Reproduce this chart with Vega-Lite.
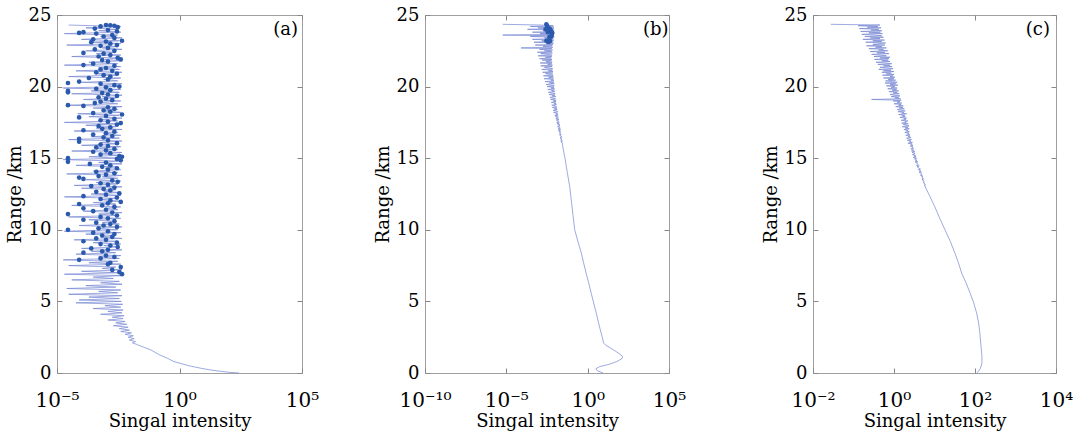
{
"$schema":"https://vega.github.io/schema/vega-lite/v6.json",
"background":"white",
"padding":5,
"datasets":{
"aLine":[{"r":0,"v":270},{"r":0.05,"v":100},{"r":0.1,"v":60},{"r":0.2,"v":20},{"r":0.33,"v":7.6},{"r":0.5,"v":2.5},{"r":0.79,"v":0.6},{"r":1.02,"v":0.33},{"r":1.3,"v":0.14},{"r":1.6,"v":0.07},{"r":1.8,"v":0.035},{"r":1.96,"v":0.02},
{"r":2.0,"v":0.018},{"r":2.1,"v":0.012},{"r":2.2,"v":0.016},{"r":2.3,"v":0.009},{"r":2.4,"v":0.014},{"r":2.5,"v":0.008},{"r":2.6,"v":0.013},{"r":2.7,"v":0.006},{"r":2.8,"v":0.011},{"r":2.9,"v":0.004},{"r":3.0,"v":0.009},{"r":3.1,"v":0.0035},{"r":3.2,"v":0.008},{"r":3.3,"v":0.002},{"r":3.4,"v":0.007},{"r":3.5,"v":0.0025},{"r":3.6,"v":0.006},{"r":3.7,"v":0.0012},{"r":3.8,"v":0.005},{"r":3.9,"v":0.0018},{"r":4.0,"v":0.0055},{"r":4.1,"v":0.0006},{"r":4.2,"v":0.0045},{"r":4.3,"v":0.0012},{"r":4.4,"v":0.005},{"r":4.5,"v":0.0003},{"r":4.6,"v":0.004},{"r":4.7,"v":0.0009},{"r":4.8,"v":0.0048},{"r":4.9,"v":0.00006},{"r":5.0,"v":0.0042},
{"r":5.1,"v":8e-5},{"r":5.2,"v":3.5e-3},{"r":5.3,"v":2e-4},{"r":5.4,"v":4.5e-3},{"r":5.5,"v":3e-5},{"r":5.6,"v":3e-3},{"r":5.7,"v":5e-4},{"r":5.8,"v":4e-3},{"r":5.9,"v":2.5e-5},{"r":6.0,"v":2.5e-3},
{"r":6.1,"v":1.5e-4},{"r":6.2,"v":4.5e-3},{"r":6.3,"v":6e-4},{"r":6.4,"v":3.5e-3},{"r":6.5,"v":4e-5},{"r":6.6,"v":2e-3},{"r":6.7,"v":3e-4},{"r":6.8,"v":4e-3},{"r":6.9,"v":2e-5},{"r":7.0,"v":3e-3},
{"r":7.1,"v":1e-4},{"r":7.2,"v":4.5e-3},{"r":7.3,"v":7e-4},{"r":7.4,"v":2.5e-3},{"r":7.5,"v":3e-5},{"r":7.6,"v":4e-3},{"r":7.7,"v":2e-4},{"r":7.8,"v":3e-3},{"r":7.9,"v":1.8e-5},{"r":8.0,"v":3.5e-3},
{"r":8.1,"v":5e-4},{"r":8.2,"v":4e-3},{"r":8.3,"v":6e-5},{"r":8.4,"v":2.5e-3},{"r":8.5,"v":2.5e-4},{"r":8.6,"v":4.5e-3},{"r":8.7,"v":1e-4},{"r":8.8,"v":3e-3},{"r":8.9,"v":8e-4},{"r":9.0,"v":4e-3},
{"r":9.1,"v":3e-4},{"r":9.2,"v":3e-3},{"r":9.3,"v":5e-5},{"r":9.4,"v":4.5e-3},{"r":9.5,"v":6e-4},{"r":9.6,"v":2.5e-3},{"r":9.7,"v":1.5e-4},{"r":9.8,"v":4e-3},{"r":9.9,"v":2e-5},{"r":10.0,"v":3e-3},
{"r":10.1,"v":4e-4},{"r":10.2,"v":4.5e-3},{"r":10.3,"v":8e-5},{"r":10.4,"v":3.5e-3},{"r":10.5,"v":7e-4},{"r":10.6,"v":2.5e-3},{"r":10.7,"v":2e-4},{"r":10.8,"v":4e-3},{"r":10.9,"v":3e-5},{"r":11.0,"v":3e-3},
{"r":11.1,"v":5e-4},{"r":11.2,"v":4.5e-3},{"r":11.3,"v":1.2e-4},{"r":11.4,"v":3e-3},{"r":11.5,"v":9e-4},{"r":11.6,"v":4e-3},{"r":11.7,"v":4e-5},{"r":11.8,"v":2.5e-3},{"r":11.9,"v":3e-4},{"r":12.0,"v":4.5e-3},
{"r":12.1,"v":6e-4},{"r":12.2,"v":3e-3},{"r":12.3,"v":2e-5},{"r":12.4,"v":4e-3},{"r":12.5,"v":2.5e-4},{"r":12.6,"v":3.5e-3},{"r":12.7,"v":8e-4},{"r":12.8,"v":2.5e-3},{"r":12.9,"v":1e-4},{"r":13.0,"v":4.5e-3},
{"r":13.1,"v":5e-5},{"r":13.2,"v":3e-3},{"r":13.3,"v":4e-4},{"r":13.4,"v":4e-3},{"r":13.5,"v":1.5e-4},{"r":13.6,"v":3e-3},{"r":13.7,"v":7e-4},{"r":13.8,"v":4.5e-3},{"r":13.9,"v":2.5e-5},{"r":14.0,"v":3e-3},
{"r":14.1,"v":3e-4},{"r":14.2,"v":4e-3},{"r":14.3,"v":9e-4},{"r":14.4,"v":2.5e-3},{"r":14.5,"v":6e-5},{"r":14.6,"v":4.5e-3},{"r":14.7,"v":5e-4},{"r":14.8,"v":3.5e-3},{"r":14.9,"v":1.8e-5},{"r":15.0,"v":4e-3},
{"r":15.1,"v":2e-4},{"r":15.2,"v":3e-3},{"r":15.3,"v":7e-4},{"r":15.4,"v":4.5e-3},{"r":15.5,"v":4e-5},{"r":15.6,"v":3e-3},{"r":15.7,"v":3.5e-4},{"r":15.8,"v":4e-3},{"r":15.9,"v":1e-4},{"r":16.0,"v":2.5e-3},
{"r":16.1,"v":6e-4},{"r":16.2,"v":4.5e-3},{"r":16.3,"v":3e-5},{"r":16.4,"v":3.5e-3},{"r":16.5,"v":2.5e-4},{"r":16.6,"v":4e-3},{"r":16.7,"v":8e-4},{"r":16.8,"v":3e-3},{"r":16.9,"v":5e-5},{"r":17.0,"v":4.5e-3},
{"r":17.1,"v":4e-4},{"r":17.2,"v":2.5e-3},{"r":17.3,"v":1.5e-4},{"r":17.4,"v":4e-3},{"r":17.5,"v":2e-5},{"r":17.6,"v":3e-3},{"r":17.7,"v":6e-4},{"r":17.8,"v":4.5e-3},{"r":17.9,"v":2e-4},{"r":18.0,"v":3.5e-3},
{"r":18.1,"v":7e-5},{"r":18.2,"v":4e-3},{"r":18.3,"v":9e-4},{"r":18.4,"v":3e-3},{"r":18.5,"v":3e-4},{"r":18.6,"v":4.5e-3},{"r":18.7,"v":2.5e-5},{"r":18.8,"v":3e-3},{"r":18.9,"v":5e-4},{"r":19.0,"v":4e-3},
{"r":19.1,"v":1.2e-4},{"r":19.2,"v":2.5e-3},{"r":19.3,"v":7e-4},{"r":19.4,"v":4.5e-3},{"r":19.5,"v":4e-5},{"r":19.6,"v":3.5e-3},{"r":19.7,"v":2.5e-4},{"r":19.8,"v":4e-3},{"r":19.9,"v":1.8e-5},{"r":20.0,"v":3e-3},
{"r":20.1,"v":6e-4},{"r":20.2,"v":4.5e-3},{"r":20.3,"v":1e-4},{"r":20.4,"v":3e-3},{"r":20.5,"v":8e-4},{"r":20.6,"v":4e-3},{"r":20.7,"v":3e-5},{"r":20.8,"v":2.5e-3},{"r":20.9,"v":3.5e-4},{"r":21.0,"v":4.5e-3},
{"r":21.1,"v":6e-5},{"r":21.2,"v":3.5e-3},{"r":21.3,"v":5e-4},{"r":21.4,"v":4e-3},{"r":21.5,"v":2e-5},{"r":21.6,"v":3e-3},{"r":21.7,"v":2e-4},{"r":21.8,"v":4.5e-3},{"r":21.9,"v":9e-4},{"r":22.0,"v":3e-3},
{"r":22.1,"v":4e-5},{"r":22.2,"v":4e-3},{"r":22.3,"v":4e-4},{"r":22.4,"v":2.5e-3},{"r":22.5,"v":1.5e-4},{"r":22.6,"v":4.5e-3},{"r":22.7,"v":7e-4},{"r":22.8,"v":3e-3},{"r":22.9,"v":2.5e-5},{"r":23.0,"v":4e-3},
{"r":23.1,"v":3e-4},{"r":23.2,"v":3.5e-3},{"r":23.3,"v":1e-4},{"r":23.4,"v":4.5e-3},{"r":23.5,"v":6e-4},{"r":23.6,"v":3e-3},{"r":23.7,"v":2e-5},{"r":23.8,"v":4e-3},{"r":23.9,"v":5e-4},{"r":24.0,"v":3e-3},
{"r":24.1,"v":1.5e-4},{"r":24.2,"v":4e-3},{"r":24.3,"v":3e-5}],
"aDots":[{"r":24.3,"v":1e-3},{"r":24.28,"v":1.5e-3},{"r":24.25,"v":2.2e-3},{"r":24.2,"v":6e-4},{"r":24.15,"v":3e-3},{"r":24.05,"v":3.5e-4},{"r":23.95,"v":1.2e-3},{"r":23.85,"v":2.8e-3},{"r":23.8,"v":1.2e-4},{"r":23.75,"v":8e-5},{"r":23.7,"v":4e-4},{"r":23.6,"v":1.8e-3},{"r":23.5,"v":8e-4},{"r":23.4,"v":2.2e-3},{"r":23.3,"v":3e-4},{"r":23.2,"v":4.5e-3},{"r":23.15,"v":1e-3},{"r":23.1,"v":2.5e-4},{"r":23.0,"v":1.5e-3},{"r":22.9,"v":2.8e-3},{"r":22.85,"v":6e-4},{"r":22.7,"v":1.2e-3},{"r":22.6,"v":3.5e-4},{"r":22.5,"v":2.2e-3},{"r":22.35,"v":1.2e-4},{"r":22.3,"v":8e-4},{"r":22.2,"v":1.5e-3},{"r":22.1,"v":5e-4},{"r":22.0,"v":3e-3},{"r":21.9,"v":4e-3},{"r":21.85,"v":7e-4},{"r":21.75,"v":1.2e-3},{"r":21.6,"v":3e-4},{"r":21.5,"v":1.2e-4},{"r":21.45,"v":2.2e-3},{"r":21.3,"v":1e-3},{"r":21.2,"v":6e-4},{"r":21.1,"v":1.8e-3},{"r":21.0,"v":4e-4},{"r":20.9,"v":2.8e-3},{"r":20.8,"v":8e-4},{"r":20.7,"v":1.5e-3},{"r":20.6,"v":2e-4},{"r":20.5,"v":1.2e-3},{"r":20.35,"v":8e-5},{"r":20.25,"v":2.8e-5},{"r":20.2,"v":6e-4},{"r":20.1,"v":2.2e-3},{"r":20.0,"v":3.5e-3},{"r":19.95,"v":1e-3},{"r":19.85,"v":4e-4},{"r":19.75,"v":1.5e-3},{"r":19.7,"v":2.8e-5},{"r":19.6,"v":2.8e-5},{"r":19.55,"v":7e-4},{"r":19.45,"v":1.2e-3},{"r":19.35,"v":2.8e-3},{"r":19.25,"v":5e-4},{"r":19.15,"v":1e-3},{"r":19.05,"v":1.8e-3},{"r":18.95,"v":6e-4},{"r":18.85,"v":3.5e-4},{"r":18.7,"v":2.8e-5},{"r":18.65,"v":1.2e-4},{"r":18.55,"v":1.2e-3},{"r":18.45,"v":2.2e-3},{"r":18.35,"v":8e-4},{"r":18.25,"v":1.5e-3},{"r":18.15,"v":3e-4},{"r":18.05,"v":4.5e-3},{"r":17.95,"v":1e-3},{"r":17.85,"v":8e-5},{"r":17.75,"v":2.2e-3},{"r":17.65,"v":6e-4},{"r":17.55,"v":1.2e-3},{"r":17.45,"v":4e-3},{"r":17.35,"v":2.8e-3},{"r":17.25,"v":5e-4},{"r":17.15,"v":1.5e-3},{"r":17.05,"v":7e-4},{"r":16.95,"v":1.2e-4},{"r":16.85,"v":2.2e-3},{"r":16.75,"v":1e-3},{"r":16.65,"v":3e-4},{"r":16.55,"v":1.8e-3},{"r":16.45,"v":8e-4},{"r":16.35,"v":8e-5},{"r":16.25,"v":1.2e-3},{"r":16.15,"v":8e-5},{"r":16.05,"v":2.8e-3},{"r":15.95,"v":6e-4},{"r":15.85,"v":1.2e-3},{"r":15.75,"v":4e-4},{"r":15.65,"v":2.2e-3},{"r":15.55,"v":1e-3},{"r":15.45,"v":3e-4},{"r":15.35,"v":1.5e-3},{"r":15.25,"v":6e-4},{"r":15.15,"v":3.5e-3},{"r":15.1,"v":4.5e-3},{"r":15.0,"v":2.8e-5},{"r":14.95,"v":2.8e-3},{"r":14.85,"v":4e-3},{"r":14.75,"v":2.8e-5},{"r":14.7,"v":1e-3},{"r":14.6,"v":2.2e-4},{"r":14.5,"v":1.5e-3},{"r":14.4,"v":7e-4},{"r":14.3,"v":2.8e-3},{"r":14.2,"v":1.2e-3},{"r":14.05,"v":4e-4},{"r":13.95,"v":2.2e-3},{"r":13.85,"v":1e-3},{"r":13.75,"v":5e-4},{"r":13.65,"v":8e-5},{"r":13.55,"v":1.2e-4},{"r":13.45,"v":1.8e-3},{"r":13.35,"v":3e-3},{"r":13.25,"v":6e-4},{"r":13.15,"v":1.2e-3},{"r":13.05,"v":2.5e-4},{"r":12.95,"v":2.2e-3},{"r":12.85,"v":8e-4},{"r":12.75,"v":1.5e-3},{"r":12.65,"v":4e-4},{"r":12.55,"v":3.5e-3},{"r":12.45,"v":1e-3},{"r":12.35,"v":1.2e-4},{"r":12.25,"v":2.8e-3},{"r":12.15,"v":6e-4},{"r":12.05,"v":1.5e-3},{"r":11.95,"v":4e-3},{"r":11.85,"v":1.2e-3},{"r":11.8,"v":8e-5},{"r":11.7,"v":7e-4},{"r":11.6,"v":2.2e-3},{"r":11.5,"v":1.2e-4},{"r":11.4,"v":1e-3},{"r":11.3,"v":3e-4},{"r":11.2,"v":1.8e-3},{"r":11.1,"v":2.8e-5},{"r":11.0,"v":2.8e-3},{"r":10.9,"v":6e-4},{"r":10.8,"v":1.2e-3},{"r":10.7,"v":1.2e-4},{"r":10.6,"v":2.2e-3},{"r":10.5,"v":4e-4},{"r":10.4,"v":1.5e-3},{"r":10.3,"v":8e-4},{"r":10.2,"v":2.8e-3},{"r":10.1,"v":5e-4},{"r":10.0,"v":2.8e-5},{"r":9.9,"v":1.2e-3},{"r":9.8,"v":3e-4},{"r":9.7,"v":2.2e-3},{"r":9.6,"v":7e-4},{"r":9.5,"v":1.8e-3},{"r":9.4,"v":4e-4},{"r":9.3,"v":1e-3},{"r":9.2,"v":1.2e-4},{"r":9.1,"v":2.8e-3},{"r":9.0,"v":6e-4},{"r":8.9,"v":1.5e-3},{"r":8.8,"v":3e-3},{"r":8.7,"v":2.5e-4},{"r":8.6,"v":1.2e-3},{"r":8.5,"v":7e-4},{"r":8.4,"v":1.2e-4},{"r":8.2,"v":1e-3},{"r":8.1,"v":2.2e-3},{"r":8.0,"v":6e-4},{"r":7.9,"v":8e-5},{"r":7.7,"v":1.5e-3},{"r":7.6,"v":1.2e-3},{"r":7.4,"v":4e-3},{"r":7.2,"v":1.8e-3},{"r":7.05,"v":3.5e-3},{"r":6.9,"v":4.5e-3}],
"bLine":[{"r":0,"v":8.9},{"r":0.15,"v":4.0},{"r":0.3,"v":3.2},{"r":0.45,"v":5.6},{"r":0.6,"v":20},{"r":0.8,"v":63},{"r":1.0,"v":126},{"r":1.15,"v":141},{"r":1.3,"v":100},{"r":1.5,"v":56},{"r":1.75,"v":25},{"r":1.95,"v":12.6},{"r":2.1,"v":9.5},{"r":2.5,"v":7.9},{"r":3.0,"v":6.0},{"r":3.5,"v":4.7},{"r":4.17,"v":3.4},{"r":5.0,"v":2.2},{"r":5.57,"v":1.66},{"r":6.3,"v":1.15},{"r":6.96,"v":0.81},{"r":7.7,"v":0.56},{"r":8.36,"v":0.41},{"r":9.2,"v":0.25},{"r":10.0,"v":0.16},{"r":11.0,"v":0.126},{"r":12.0,"v":0.1},{"r":13.0,"v":0.079},{"r":14.0,"v":0.056},{"r":15.1,"v":0.039},{"r":16.0,"v":0.0275},
{"r":16.05,"v":0.029},{"r":16.1,"v":0.024},{"r":16.15,"v":0.028},{"r":16.2,"v":0.022},{"r":16.25,"v":0.027},{"r":16.3,"v":0.025},{"r":16.35,"v":0.021},{"r":16.4,"v":0.026},{"r":16.45,"v":0.02},{"r":16.5,"v":0.025},{"r":16.55,"v":0.023},{"r":16.6,"v":0.019},{"r":16.65,"v":0.024},{"r":16.7,"v":0.018},{"r":16.75,"v":0.022},{"r":16.8,"v":0.021},{"r":16.85,"v":0.017},{"r":16.9,"v":0.022},{"r":16.95,"v":0.016},{"r":17.0,"v":0.021},
{"r":17.05,"v":0.015},{"r":17.1,"v":0.021},{"r":17.15,"v":0.018},{"r":17.2,"v":0.014},{"r":17.25,"v":0.02},{"r":17.3,"v":0.016},{"r":17.35,"v":0.019},{"r":17.4,"v":0.013},{"r":17.45,"v":0.018},{"r":17.5,"v":0.0125},{"r":17.55,"v":0.0175},{"r":17.6,"v":0.015},{"r":17.65,"v":0.012},{"r":17.7,"v":0.017},{"r":17.75,"v":0.011},{"r":17.8,"v":0.016},{"r":17.85,"v":0.0135},{"r":17.9,"v":0.0105},{"r":17.95,"v":0.0155},{"r":18.0,"v":0.0095},
{"r":18.05,"v":0.015},{"r":18.1,"v":0.011},{"r":18.15,"v":0.014},{"r":18.2,"v":0.008},{"r":18.25,"v":0.0145},{"r":18.3,"v":0.012},{"r":18.35,"v":0.0075},{"r":18.4,"v":0.0135},{"r":18.45,"v":0.009},{"r":18.5,"v":0.013},{"r":18.55,"v":0.0068},{"r":18.6,"v":0.0125},{"r":18.65,"v":0.0105},{"r":18.7,"v":0.0062},{"r":18.75,"v":0.012},{"r":18.8,"v":0.0085},{"r":18.85,"v":0.0115},{"r":18.9,"v":0.0058},{"r":18.95,"v":0.0112},{"r":19.0,"v":0.0078},
{"r":19.05,"v":0.0115},{"r":19.1,"v":0.0052},{"r":19.15,"v":0.0105},{"r":19.2,"v":0.0072},{"r":19.25,"v":0.0048},{"r":19.3,"v":0.011},{"r":19.35,"v":0.0065},{"r":19.4,"v":0.0098},{"r":19.45,"v":0.0042},{"r":19.5,"v":0.0102},{"r":19.55,"v":0.007},{"r":19.6,"v":0.0038},{"r":19.65,"v":0.0095},{"r":19.7,"v":0.006},{"r":19.75,"v":0.009},{"r":19.8,"v":0.0035},{"r":19.85,"v":0.0092},{"r":19.9,"v":0.0055},{"r":19.95,"v":0.0085},{"r":20.0,"v":0.0032},
{"r":20.05,"v":0.009},{"r":20.1,"v":0.005},{"r":20.15,"v":0.0028},{"r":20.2,"v":0.0088},{"r":20.25,"v":0.0045},{"r":20.3,"v":0.0082},{"r":20.35,"v":0.0024},{"r":20.4,"v":0.0085},{"r":20.45,"v":0.0055},{"r":20.5,"v":0.0078},{"r":20.55,"v":0.0021},{"r":20.6,"v":0.008},{"r":20.65,"v":0.004},{"r":20.7,"v":0.0075},{"r":20.75,"v":0.0019},{"r":20.8,"v":0.0077},{"r":20.85,"v":0.005},{"r":20.9,"v":0.0026},{"r":20.95,"v":0.0072},{"r":21.0,"v":0.0017},
{"r":21.05,"v":0.0074},{"r":21.1,"v":0.0038},{"r":21.15,"v":0.0068},{"r":21.2,"v":0.0015},{"r":21.25,"v":0.0072},{"r":21.3,"v":0.0042},{"r":21.35,"v":0.0022},{"r":21.4,"v":0.0066},{"r":21.45,"v":0.0013},{"r":21.5,"v":0.0069},{"r":21.55,"v":0.0035},{"r":21.6,"v":0.0062},{"r":21.65,"v":0.0012},{"r":21.7,"v":0.0066},{"r":21.75,"v":0.0028},{"r":21.8,"v":0.006},{"r":21.85,"v":0.0016},{"r":21.9,"v":0.0064},{"r":21.95,"v":0.0011},{"r":22.0,"v":0.0058},
{"r":22.05,"v":0.0025},{"r":22.1,"v":0.0062},{"r":22.15,"v":0.0009},{"r":22.2,"v":0.0065},{"r":22.25,"v":0.0032},{"r":22.3,"v":0.0013},{"r":22.35,"v":0.0068},{"r":22.4,"v":0.0008},{"r":22.45,"v":0.006},{"r":22.5,"v":0.0022},{"r":22.55,"v":0.007},{"r":22.6,"v":0.0011},{"r":22.65,"v":0.0062},{"r":22.7,"v":8e-5},{"r":22.75,"v":0.0072},{"r":22.8,"v":0.0018},{"r":22.85,"v":0.0066},{"r":22.9,"v":0.0006},{"r":22.95,"v":0.0075},{"r":23.0,"v":0.0028},
{"r":23.05,"v":0.008},{"r":23.1,"v":0.0005},{"r":23.15,"v":0.0068},{"r":23.2,"v":0.0015},{"r":23.25,"v":0.0085},{"r":23.3,"v":0.0004},{"r":23.35,"v":0.0075},{"r":23.4,"v":0.0022},{"r":23.45,"v":0.0088},{"r":23.5,"v":0.0003},{"r":23.55,"v":0.0078},{"r":23.6,"v":6e-6},{"r":23.65,"v":0.0082},{"r":23.7,"v":0.0012},{"r":23.75,"v":0.009},{"r":23.8,"v":0.0004},{"r":23.85,"v":0.0076},{"r":23.9,"v":0.0018},{"r":23.95,"v":0.0088},{"r":24.0,"v":0.0002},
{"r":24.05,"v":0.008},{"r":24.1,"v":0.0009},{"r":24.15,"v":0.0085},{"r":24.2,"v":0.0003},{"r":24.25,"v":0.0078},{"r":24.3,"v":0.0012},{"r":24.35,"v":6e-6}],
"bDots":[{"r":24.35,"v":0.0029},{"r":24.2,"v":0.0033},{"r":24.05,"v":0.0046},{"r":24.0,"v":0.0026},{"r":23.9,"v":0.0055},{"r":23.8,"v":0.0036},{"r":23.75,"v":0.0066},{"r":23.6,"v":0.0062},{"r":23.5,"v":0.0057},{"r":23.45,"v":0.0045},{"r":23.2,"v":0.0029},{"r":23.18,"v":0.0049},{"r":23.12,"v":0.0038}],
"cLine":[{"r":0,"v":110},{"r":0.1,"v":120},{"r":0.3,"v":135},{"r":0.68,"v":148},{"r":1.2,"v":148},{"r":1.84,"v":141},{"r":2.77,"v":132},{"r":3.5,"v":123},{"r":4.17,"v":110},{"r":4.9,"v":93},{"r":5.57,"v":76},{"r":6.3,"v":60},{"r":6.96,"v":47},{"r":7.7,"v":39},{"r":8.36,"v":32},{"r":9.2,"v":24.5},{"r":9.99,"v":18.2},{"r":10.8,"v":13.5},{"r":11.6,"v":10.2},{"r":12.3,"v":7.8},{"r":13.0,"v":5.9},
{"r":13.05,"v":5.95},{"r":13.1,"v":5.5},{"r":13.15,"v":6.0},{"r":13.2,"v":5.6},{"r":13.25,"v":5.7},{"r":13.3,"v":5.2},{"r":13.35,"v":5.6},{"r":13.4,"v":5.3},{"r":13.45,"v":5.3},{"r":13.5,"v":4.9},{"r":13.55,"v":5.4},{"r":13.6,"v":4.9},{"r":13.65,"v":5.1},{"r":13.7,"v":4.8},{"r":13.75,"v":5.2},{"r":13.8,"v":4.5},{"r":13.85,"v":4.9},{"r":13.9,"v":4.6},{"r":13.95,"v":4.8},{"r":14.0,"v":4.2},
{"r":14.05,"v":4.7},{"r":14.1,"v":4.2},{"r":14.15,"v":4.5},{"r":14.2,"v":4.0},{"r":14.25,"v":4.5},{"r":14.3,"v":4.1},{"r":14.35,"v":4.0},{"r":14.4,"v":3.7},{"r":14.45,"v":4.2},{"r":14.5,"v":3.6},{"r":14.55,"v":4.0},{"r":14.6,"v":3.8},{"r":14.65,"v":3.7},{"r":14.7,"v":3.4},{"r":14.75,"v":3.9},{"r":14.8,"v":3.3},{"r":14.85,"v":3.7},{"r":14.9,"v":3.5},{"r":14.95,"v":3.2},{"r":15.0,"v":3.6},
{"r":15.05,"v":3.0},{"r":15.1,"v":3.5},{"r":15.15,"v":3.1},{"r":15.2,"v":3.4},{"r":15.25,"v":2.85},{"r":15.3,"v":3.3},{"r":15.35,"v":3.15},{"r":15.4,"v":2.8},{"r":15.45,"v":3.3},{"r":15.5,"v":2.7},{"r":15.55,"v":3.1},{"r":15.6,"v":2.95},{"r":15.65,"v":2.6},{"r":15.7,"v":3.05},{"r":15.75,"v":2.75},{"r":15.8,"v":2.9},{"r":15.85,"v":2.5},{"r":15.9,"v":2.95},{"r":15.95,"v":2.6},{"r":16.0,"v":2.8},
{"r":16.05,"v":2.2},{"r":16.1,"v":2.85},{"r":16.15,"v":2.4},{"r":16.2,"v":2.6},{"r":16.25,"v":2.15},{"r":16.3,"v":2.7},{"r":16.35,"v":2.3},{"r":16.4,"v":2.05},{"r":16.45,"v":2.6},{"r":16.5,"v":2.25},{"r":16.55,"v":2.5},{"r":16.6,"v":1.95},{"r":16.65,"v":2.45},{"r":16.7,"v":2.15},{"r":16.75,"v":2.35},{"r":16.8,"v":1.85},{"r":16.85,"v":2.4},{"r":16.9,"v":2.0},{"r":16.95,"v":2.2},{"r":17.0,"v":1.75},
{"r":17.05,"v":2.4},{"r":17.1,"v":1.9},{"r":17.15,"v":2.2},{"r":17.2,"v":1.6},{"r":17.25,"v":2.35},{"r":17.3,"v":2.0},{"r":17.35,"v":1.7},{"r":17.4,"v":2.25},{"r":17.45,"v":1.55},{"r":17.5,"v":2.0},{"r":17.55,"v":1.85},{"r":17.6,"v":2.2},{"r":17.65,"v":1.5},{"r":17.7,"v":1.95},{"r":17.75,"v":1.75},{"r":17.8,"v":2.05},{"r":17.85,"v":1.4},{"r":17.9,"v":1.9},{"r":17.95,"v":1.6},{"r":18.0,"v":1.85},
{"r":18.05,"v":1.3},{"r":18.1,"v":2.05},{"r":18.15,"v":1.55},{"r":18.2,"v":1.75},{"r":18.25,"v":1.25},{"r":18.3,"v":1.9},{"r":18.35,"v":1.45},{"r":18.4,"v":1.2},{"r":18.45,"v":1.8},{"r":18.5,"v":1.35},{"r":18.55,"v":1.65},{"r":18.6,"v":1.1},{"r":18.65,"v":1.7},{"r":18.7,"v":1.3},{"r":18.75,"v":1.5},{"r":18.8,"v":1.0},{"r":18.85,"v":1.55},{"r":18.9,"v":1.2},{"r":18.95,"v":1.4},{"r":19.0,"v":0.95},
{"r":19.05,"v":1.5},{"r":19.1,"v":0.28},{"r":19.15,"v":1.45},{"r":19.2,"v":1.05},{"r":19.25,"v":1.3},{"r":19.3,"v":0.85},{"r":19.35,"v":1.4},{"r":19.4,"v":1.0},{"r":19.45,"v":0.8},{"r":19.5,"v":1.35},{"r":19.55,"v":0.95},{"r":19.6,"v":1.2},{"r":19.65,"v":0.75},{"r":19.7,"v":1.3},{"r":19.75,"v":0.9},{"r":19.8,"v":1.15},{"r":19.85,"v":0.7},{"r":19.9,"v":1.2},{"r":19.95,"v":0.85},{"r":20.0,"v":1.05},
{"r":20.05,"v":0.65},{"r":20.1,"v":1.25},{"r":20.15,"v":0.8},{"r":20.2,"v":1.1},{"r":20.25,"v":0.6},{"r":20.3,"v":1.2},{"r":20.35,"v":0.9},{"r":20.4,"v":0.62},{"r":20.45,"v":1.1},{"r":20.5,"v":0.72},{"r":20.55,"v":1.0},{"r":20.6,"v":0.55},{"r":20.65,"v":1.05},{"r":20.7,"v":0.8},{"r":20.75,"v":0.95},{"r":20.8,"v":0.52},{"r":20.85,"v":1.0},{"r":20.9,"v":0.65},{"r":20.95,"v":0.85},{"r":21.0,"v":0.5},
{"r":21.05,"v":1.0},{"r":21.1,"v":0.55},{"r":21.15,"v":0.85},{"r":21.2,"v":0.42},{"r":21.25,"v":0.95},{"r":21.3,"v":0.7},{"r":21.35,"v":0.45},{"r":21.4,"v":0.9},{"r":21.45,"v":0.55},{"r":21.5,"v":0.8},{"r":21.55,"v":0.4},{"r":21.6,"v":0.88},{"r":21.65,"v":0.6},{"r":21.7,"v":0.36},{"r":21.75,"v":0.8},{"r":21.8,"v":0.5},{"r":21.85,"v":0.72},{"r":21.9,"v":0.33},{"r":21.95,"v":0.75},{"r":22.0,"v":0.45},
{"r":22.05,"v":0.8},{"r":22.1,"v":0.32},{"r":22.15,"v":0.65},{"r":22.2,"v":0.45},{"r":22.25,"v":0.28},{"r":22.3,"v":0.75},{"r":22.35,"v":0.38},{"r":22.4,"v":0.6},{"r":22.45,"v":0.26},{"r":22.5,"v":0.7},{"r":22.55,"v":0.42},{"r":22.6,"v":0.55},{"r":22.65,"v":0.24},{"r":22.7,"v":0.65},{"r":22.75,"v":0.35},{"r":22.8,"v":0.5},{"r":22.85,"v":0.21},{"r":22.9,"v":0.6},{"r":22.95,"v":0.3},{"r":23.0,"v":0.45},
{"r":23.05,"v":0.62},{"r":23.1,"v":0.2},{"r":23.15,"v":0.5},{"r":23.2,"v":0.3},{"r":23.25,"v":0.58},{"r":23.3,"v":0.17},{"r":23.35,"v":0.45},{"r":23.4,"v":0.26},{"r":23.45,"v":0.55},{"r":23.5,"v":0.19},{"r":23.55,"v":0.5},{"r":23.6,"v":0.33},{"r":23.65,"v":0.16},{"r":23.7,"v":0.52},{"r":23.75,"v":0.24},{"r":23.8,"v":0.46},{"r":23.85,"v":0.15},{"r":23.9,"v":0.5},{"r":23.95,"v":0.27},{"r":24.0,"v":0.42},
{"r":24.05,"v":0.14},{"r":24.1,"v":0.48},{"r":24.15,"v":0.22},{"r":24.2,"v":0.4},{"r":24.25,"v":0.13},{"r":24.3,"v":0.45},{"r":24.35,"v":0.0275}]
},
"config":{
"view":{"stroke":"#a0a0a0","strokeWidth":1},
"font":"DejaVu Serif",
"text":{"font":"DejaVu Serif"},
"axis":{"grid":false,"domain":false,"tickColor":"#888888","tickSize":-5,"tickWidth":1,"labelFont":"DejaVu Serif","labelColor":"#000000","titleFont":"DejaVu Serif","titleColor":"#000000","titleFontWeight":"normal","titleFontSize":18},
"axisX":{"labelFontSize":20,"labelFlush":false,"labelPadding":22,"titlePadding":2},
"axisY":{"labelFontSize":18,"labelPadding":11,"titlePadding":4,"minExtent":0}
},
"spacing":74,
"hconcat":[
{"spacing":53,"hconcat":[
{"width":245,"height":358,
"resolve":{"axis":{"x":"independent","y":"independent"}},
"layer":[
{"data":{"name":"aLine"},"mark":{"type":"line","color":"#7485d2","strokeWidth":0.7},
"encoding":{"x":{"field":"v","type":"quantitative","scale":{"type":"log","domain":[1e-5,1e5],"nice":false},"axis":{"orient":"bottom","values":[1e-5,1,1e5],"labelExpr":"datum.value < 0.01 ? '10⁻⁵' : datum.value < 10 ? '10⁰' : '10⁵'","title":"Singal intensity"}},
"y":{"field":"r","type":"quantitative","scale":{"domain":[0,25],"nice":false,"zero":false},"axis":{"orient":"left","values":[0,5,10,15,20,25],"title":"Range /km"}},
"order":{"field":"r","type":"quantitative"}}},
{"data":{"name":"aDots"},"mark":{"type":"circle","size":22,"color":"#2b5aad","opacity":1},
"encoding":{"x":{"field":"v","type":"quantitative","axis":{"orient":"top","values":[1e-5,1,1e5],"labels":false,"title":null}},
"y":{"field":"r","type":"quantitative","axis":{"orient":"right","values":[0,5,10,15,20,25],"labels":false,"title":null}}}},
{"data":{"values":[{}]},"mark":{"type":"text","text":"(a)","align":"right","baseline":"middle","fontSize":18,"font":"DejaVu Serif","color":"#000000"},
"encoding":{"x":{"datum":69000,"type":"quantitative","axis":null},"y":{"datum":23.95,"type":"quantitative","axis":null}}}
]},
{"width":244,"height":358,
"resolve":{"axis":{"x":"independent","y":"independent"}},
"layer":[
{"data":{"name":"bLine"},"mark":{"type":"line","color":"#7485d2","strokeWidth":0.7},
"encoding":{"x":{"field":"v","type":"quantitative","scale":{"type":"log","domain":[1e-10,1e5],"nice":false},"axis":{"orient":"bottom","values":[1e-10,1e-5,1,1e5],"labelExpr":"datum.value < 0.0000001 ? '10⁻¹⁰' : datum.value < 0.01 ? '10⁻⁵' : datum.value < 10 ? '10⁰' : '10⁵'","title":"Singal intensity"}},
"y":{"field":"r","type":"quantitative","scale":{"domain":[0,25],"nice":false,"zero":false},"axis":{"orient":"left","values":[0,5,10,15,20,25],"title":"Range /km"}},
"order":{"field":"r","type":"quantitative"}}},
{"data":{"name":"bDots"},"mark":{"type":"circle","size":22,"color":"#2b5aad","opacity":1},
"encoding":{"x":{"field":"v","type":"quantitative","axis":{"orient":"top","values":[1e-10,1e-5,1,1e5],"labels":false,"title":null}},
"y":{"field":"r","type":"quantitative","axis":{"orient":"right","values":[0,5,10,15,20,25],"labels":false,"title":null}}}},
{"data":{"values":[{}]},"mark":{"type":"text","text":"(b)","align":"right","baseline":"middle","fontSize":18,"font":"DejaVu Serif","color":"#000000"},
"encoding":{"x":{"datum":95000,"type":"quantitative","axis":null},"y":{"datum":23.95,"type":"quantitative","axis":null}}}
]}
]},
{"width":243,"height":358,
"resolve":{"axis":{"x":"independent","y":"independent"}},
"layer":[
{"data":{"name":"cLine"},"mark":{"type":"line","color":"#7485d2","strokeWidth":0.7},
"encoding":{"x":{"field":"v","type":"quantitative","scale":{"type":"log","domain":[0.01,10000],"nice":false},"axis":{"orient":"bottom","values":[0.01,1,100,10000],"labelExpr":"datum.value < 0.1 ? '10⁻²' : datum.value < 10 ? '10⁰' : datum.value < 1000 ? '10²' : '10⁴'","title":"Singal intensity"}},
"y":{"field":"r","type":"quantitative","scale":{"domain":[0,25],"nice":false,"zero":false},"axis":{"orient":"left","values":[0,5,10,15,20,25],"title":"Range /km"}},
"order":{"field":"r","type":"quantitative"}}},
{"data":{"values":[{}]},"mark":{"type":"text","text":"(c)","align":"right","baseline":"middle","fontSize":18,"font":"DejaVu Serif","color":"#000000"},
"encoding":{"x":{"datum":7100,"type":"quantitative","axis":{"orient":"top","values":[0.01,1,100,10000],"labels":false,"title":null}},"y":{"datum":23.95,"type":"quantitative","axis":{"orient":"right","values":[0,5,10,15,20,25],"labels":false,"title":null}}}}
]}
]
}
